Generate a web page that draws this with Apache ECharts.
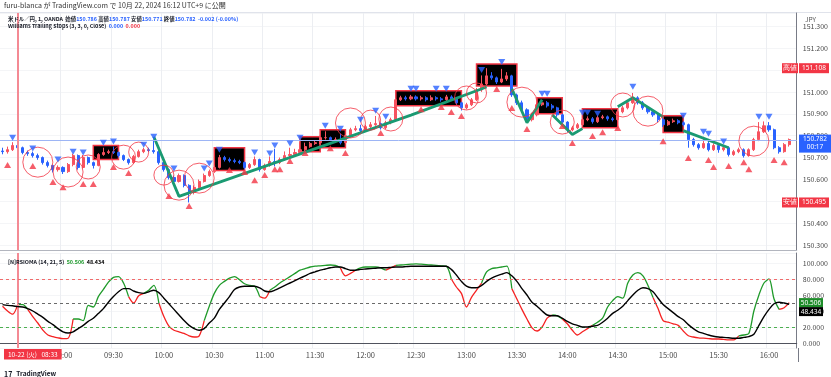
<!DOCTYPE html>
<html>
<head>
<meta charset="utf-8">
<script src="https://cdn.jsdelivr.net/npm/echarts@6/dist/echarts.min.js"></script>
<style>
  html, body { margin: 0; padding: 0; background: #fff; }
  #chart { width: 831px; height: 377px; }
</style>
</head>
<body>
<div id="chart"></div>
<script>
// ---- データ (3分足で読み取り) ----
const startMinute = 8 * 60 + 24;   // 08:24
const stepMinute = 3;
const barCount = 158;
const timeLabels = ['09:00', '09:30', '10:00', '10:30', '11:00', '11:30', '12:00', '12:30',
  '13:00', '13:30', '14:00', '14:30', '15:00', '15:30', '16:00'];

const firstOpen = 150.730;
const closes = [
  150.727, 150.736, 150.755, 150.745, 150.723, 150.718, 150.709, 150.700, 150.677, 150.664,
  150.645, 150.655, 150.636, 150.668, 150.709, 150.655, 150.700, 150.677, 150.664, 150.714,
  150.723, 150.727, 150.723, 150.709, 150.691, 150.677, 150.705, 150.727, 150.736, 150.732,
  150.727, 150.677, 150.645, 150.609, 150.591, 150.618, 150.573, 150.541, 150.564, 150.591,
  150.618, 150.636, 150.655, 150.700, 150.691, 150.686, 150.682, 150.677, 150.655, 150.668,
  150.691, 150.645, 150.664, 150.682, 150.677, 150.691, 150.709, 150.714, 150.723, 150.736,
  150.750, 150.764, 150.768, 150.791, 150.791, 150.782, 150.782, 150.768, 150.800, 150.827,
  150.832, 150.823, 150.841, 150.850, 150.855, 150.836, 150.859, 150.873, 150.964, 150.973,
  150.968, 150.977, 150.968, 150.973, 150.964, 150.973, 150.968, 150.964, 150.977, 150.968,
  150.950, 150.927, 150.941, 150.964, 151.009, 151.036, 151.073, 151.064, 151.045, 151.059,
  151.073, 150.986, 150.950, 150.918, 150.873, 150.895, 150.941, 150.950, 150.936, 150.927,
  150.895, 150.862, 150.827, 150.836, 150.850, 150.873, 150.877, 150.864, 150.882, 150.886,
  150.877, 150.873, 150.909, 150.927, 150.950, 150.973, 150.950, 150.927, 150.909, 150.895,
  150.873, 150.850, 150.864, 150.868, 150.859, 150.850, 150.782, 150.759, 150.745, 150.764,
  150.736, 150.755, 150.736, 150.745, 150.714, 150.727, 150.736, 150.709, 150.736, 150.782,
  150.818, 150.845, 150.827, 150.745, 150.727, 150.759, 150.782
];
const highs = [
  150.745, 150.750, 150.770, 150.768, 150.750, 150.732, 150.727, 150.718, 150.705, 150.686,
  150.668, 150.664, 150.660, 150.675, 150.718, 150.714, 150.712, 150.705, 150.682, 150.720,
  150.745, 150.736, 150.750, 150.728, 150.714, 150.696, 150.712, 150.736, 150.745, 150.745,
  150.782, 150.732, 150.682, 150.650, 150.618, 150.627, 150.623, 150.578, 150.573, 150.600,
  150.627, 150.645, 150.664, 150.712, 150.708, 150.700, 150.695, 150.690, 150.682, 150.675,
  150.705, 150.695, 150.672, 150.705, 150.740, 150.700, 150.728, 150.745, 150.740, 150.770,
  150.768, 150.772, 150.778, 150.800, 150.820, 150.796, 150.792, 150.810, 150.808, 150.836,
  150.845, 150.850, 150.850, 150.862, 150.890, 150.860, 150.868, 150.882, 150.972, 150.982,
  150.982, 150.986, 150.984, 150.982, 150.980, 150.984, 150.980, 150.976, 150.986, 150.984,
  150.972, 150.955, 150.950, 150.972, 151.018, 151.075, 151.108, 151.090, 151.070, 151.105,
  151.090, 151.078, 150.992, 150.960, 150.925, 150.905, 150.950, 150.962, 150.958, 150.945,
  150.932, 150.900, 150.866, 150.845, 150.858, 150.882, 150.888, 150.885, 150.892, 150.895,
  150.892, 150.885, 150.918, 150.936, 150.960, 150.995, 150.980, 150.958, 150.935, 150.915,
  150.900, 150.880, 150.872, 150.878, 150.875, 150.866, 150.855, 150.790, 150.766, 150.795,
  150.785, 150.765, 150.760, 150.752, 150.750, 150.735, 150.745, 150.742, 150.742, 150.790,
  150.862, 150.865, 150.862, 150.832, 150.752, 150.766, 150.787
];
const lows = [
  150.715, 150.718, 150.730, 150.735, 150.715, 150.708, 150.700, 150.690, 150.668, 150.655,
  150.632, 150.636, 150.625, 150.630, 150.660, 150.645, 150.650, 150.668, 150.650, 150.660,
  150.708, 150.716, 150.716, 150.700, 150.684, 150.668, 150.672, 150.700, 150.720, 150.725,
  150.718, 150.668, 150.636, 150.600, 150.582, 150.586, 150.564, 150.495, 150.532, 150.555,
  150.586, 150.612, 150.630, 150.650, 150.682, 150.678, 150.674, 150.670, 150.645, 150.648,
  150.662, 150.636, 150.640, 150.658, 150.660, 150.670, 150.686, 150.700, 150.708, 150.716,
  150.730, 150.745, 150.758, 150.762, 150.782, 150.775, 150.774, 150.760, 150.762, 150.795,
  150.820, 150.815, 150.818, 150.835, 150.845, 150.828, 150.830, 150.852, 150.868, 150.958,
  150.960, 150.962, 150.960, 150.960, 150.956, 150.958, 150.960, 150.955, 150.958, 150.960,
  150.942, 150.915, 150.920, 150.935, 150.958, 151.000, 151.030, 151.055, 151.036, 151.040,
  151.050, 150.977, 150.940, 150.905, 150.860, 150.865, 150.888, 150.935, 150.928, 150.918,
  150.886, 150.855, 150.815, 150.820, 150.830, 150.845, 150.866, 150.855, 150.858, 150.875,
  150.868, 150.865, 150.868, 150.902, 150.920, 150.945, 150.942, 150.918, 150.900, 150.886,
  150.862, 150.840, 150.845, 150.858, 150.852, 150.842, 150.745, 150.750, 150.736, 150.740,
  150.728, 150.730, 150.722, 150.728, 150.705, 150.708, 150.720, 150.700, 150.704, 150.730,
  150.775, 150.812, 150.818, 150.738, 150.718, 150.722, 150.750
];

// Williams Trailing Stops のマーカー [足番号, 価格]
const highMarks = [[2, 150.791], [6, 150.741], [11, 150.691], [14, 150.727], [16, 150.723],
  [20, 150.768], [22, 150.773], [28, 150.759], [30, 150.795], [34, 150.650], [40, 150.650],
  [41, 150.673], [43, 150.736], [50, 150.723], [53, 150.718], [54, 150.755], [57, 150.764],
  [59, 150.791], [64, 150.845], [67, 150.832], [71, 150.873], [74, 150.914], [76, 150.886],
  [81, 151.014], [82, 151.014], [86, 151.014], [88, 151.014], [95, 151.100], [99, 151.136],
  [107, 150.991], [108, 150.991], [115, 150.905], [116, 150.905], [118, 150.900], [125, 151.023],
  [135, 150.891], [139, 150.818], [140, 150.809], [143, 150.773], [150, 150.886], [152, 150.886]];
const lowMarks = [[1, 150.666], [6, 150.661], [10, 150.588], [12, 150.565], [16, 150.579],
  [18, 150.579], [22, 150.657], [25, 150.629], [33, 150.524], [37, 150.479], [45, 150.643],
  [48, 150.634], [50, 150.597], [52, 150.620], [54, 150.647], [55, 150.647], [57, 150.684],
  [60, 150.721], [65, 150.743], [68, 150.721], [75, 150.812], [83, 150.921], [87, 150.931],
  [89, 150.908], [91, 150.890], [98, 151.013], [101, 150.926], [104, 150.830], [111, 150.844],
  [113, 150.766], [117, 150.798], [119, 150.816], [122, 150.835], [131, 150.775], [136, 150.698],
  [140, 150.689], [141, 150.657], [144, 150.661], [147, 150.679], [148, 150.647], [153, 150.689],
  [155, 150.679]];

// 丸 (中心)
const circlesLarge = [[7, 150.679], [13, 150.634], [35, 150.574], [39, 150.606], [69, 150.858],
  [103, 150.953], [128, 150.912], [149, 150.775]];
const circlesMid = [[17, 150.657], [24, 150.702], [77, 150.876], [92, 150.972], [111, 150.862],
  [123, 150.940]];
const circlesSmall = [[27, 150.725], [32, 150.620], [73, 150.871], [94, 150.995]];

// 黒い箱 [開始足, 終了足, 上, 下]
const boxes = [[18, 23, 150.755, 150.691], [42, 48, 150.745, 150.641], [59, 63, 150.795, 150.727],
  [63, 68, 150.827, 150.745], [78, 91, 151.005, 150.936], [94, 102, 151.127, 151.027],
  [106, 111, 150.973, 150.900], [115, 122, 150.923, 150.836], [131, 135, 150.891, 150.814]];

// 緑のライン
const trendLines = [
  [[30, 150.795], [35, 150.523], [81, 150.894], [96, 151.022]],
  [[101, 151.014], [104, 150.859], [107, 150.964]],
  [[109, 150.895], [113, 150.805], [115, 150.832]],
  [[122, 150.932], [125, 150.973], [131, 150.886]],
  [[135, 150.823], [144, 150.745]]
];

// RSIOMA
const rsiValues = [
  46, 40, 36, 48, 48, 42, 33, 25, 16, 10,
  8, 6.5, 5.5, 6, 30, 30, 28, 47, 45, 58,
  67, 76, 82, 83, 75, 58, 50, 59, 62, 66,
  72, 50, 33, 21, 16, 14, 12, 9, 7.5, 9,
  28, 46, 62, 72, 77, 81, 83, 79, 74, 72,
  71, 58, 56, 66, 70, 75, 79, 83, 87, 91,
  93, 95, 96, 96.5, 97, 97.5, 97, 94, 84, 87,
  91, 94, 95, 95, 95, 94, 91, 94, 97, 97.5,
  98, 98.5, 99, 98.5, 98, 97.5, 97, 96.5, 96, 80,
  70, 62, 45, 57, 66, 75, 89, 93, 94, 95,
  96, 68, 55, 42, 30, 19, 15, 20, 31, 35,
  34, 30, 24, 16, 10, 14, 18, 22, 26, 31,
  45, 53, 58, 56, 75, 85, 88, 84, 72, 57,
  43, 28, 26, 24, 22, 15, 9, 7.5, 6.5, 6,
  5.5, 5, 5, 4.5, 4, 4, 9, 10, 12, 40,
  60, 75, 80, 55, 42, 44, 50.506
];
const maValues = [
  48, 47, 46.5, 45.5, 45, 43, 40, 36, 32, 27,
  23, 18, 14, 12.5, 14, 18, 22, 27, 31, 37,
  43, 51, 58, 64, 68, 68, 65, 63, 62, 64,
  66, 63, 56, 49, 42, 35, 28, 22, 18, 16,
  18, 25, 31, 42, 50, 58, 67, 70, 71, 71,
  71, 69, 65, 64, 66, 69, 72, 75, 78, 81,
  84, 87, 89, 91, 92.5, 94, 95, 95, 93, 91,
  91, 92, 92.5, 93, 93.5, 94, 94, 94.5, 95, 95,
  95.5, 96, 96, 96, 96, 96, 96, 96, 96, 92,
  85, 77, 71, 69, 69, 72, 77, 81, 84, 86,
  88, 84, 77, 68, 60, 51, 46, 40, 35, 34,
  34, 31, 27, 24, 22, 20, 20, 21, 22, 26,
  31, 37, 41, 46, 53, 60, 66, 69, 68, 64,
  56, 48, 43, 38, 33, 29, 23, 18, 14, 12,
  10, 8.5, 7.5, 7, 6.5, 6, 6, 7, 8, 11,
  22, 33, 42, 49, 51, 50, 48.434
];

const lastPrice = 150.782;
const dayHigh = 151.108;
const dayLow = 150.495;

// ---- 組み立て ----
const pad = n => (n < 10 ? '0' : '') + n;
const categories = [];
for (let i = 0; i < barCount; i++) {
  const m = startMinute + stepMinute * i;
  categories.push(pad(Math.floor(m / 60)) + ':' + pad(m % 60));
}
const candles = closes.map((c, i) => [i ? closes[i - 1] : firstOpen, c, lows[i], highs[i]]);
// 区間 (i, i+1) は i の時点で RSI >= MA なら緑、そうでなければ赤
const isUp = j => j >= 0 && j < rsiValues.length && rsiValues[j] >= maValues[j];
const rsiGreen = rsiValues.map((v, i) => (isUp(i) || isUp(i - 1) ? v : null));
const rsiRed = rsiValues.map((v, i) => (!isUp(i) || (i > 0 && !isUp(i - 1)) ? v : null));

const FONT = '"Noto Sans CJK JP", "Noto Sans", sans-serif';
const RED = '#f23645';
const BLUE = '#2962ff';
const showTime = (idx, val) => timeLabels.indexOf(val) >= 0;

const chart = echarts.init(document.getElementById('chart'));

const circleSeries = (data, size) => ({
  type: 'scatter', xAxisIndex: 0, yAxisIndex: 0, data: data, symbol: 'circle', symbolSize: size,
  itemStyle: { color: 'rgba(0,0,0,0)', borderColor: RED, borderWidth: 1 }, z: 5, silent: true
});
const hdr = (size, color) => ({ fontSize: size, color: color || '#131722', fontFamily: FONT });

const option = {
  animation: false,
  backgroundColor: '#fff',
  textStyle: { fontFamily: FONT },
  title: [
    { text: 'furu-blanca が TradingView.com で 10月 22, 2024 16:12 UTC+9 に公開', left: 4, top: 2, padding: 0,
      textStyle: { fontSize: 7, fontWeight: 'normal', color: '#333', fontFamily: FONT } },
    { text: '{k|米ドル／円, 1, OANDA  始値}{v|150.786}{k| 高値}{v|150.787}{k| 安値}{v|150.771}{k| 終値}{v|150.782}{v|  -0.002 (-0.00%)}',
      left: 8, top: 16.5, padding: 0,
      textStyle: { rich: { k: hdr(5.4), v: hdr(5.4, BLUE) } } },
    { text: '{k|Williams Trailing Stops (3, 3, 0, Close)  }{v|0.000}{r|  0.000}', left: 8, top: 23, padding: 0,
      textStyle: { rich: { k: hdr(5.4), v: hdr(5.4, BLUE), r: hdr(5.4, RED) } } },
    { text: '{k|[N]RSIOMA (14, 21, 5)  }{g|50.506}{b|  48.434}', left: 8, top: 259.5, padding: 0,
      textStyle: { rich: { k: hdr(5.4), g: hdr(5.4, '#1e9a2c'), b: hdr(5.4, '#000') } } },
    { text: 'JPY', left: 805, top: 16, padding: 0, textStyle: { fontSize: 6.5, fontWeight: 'normal', color: '#555', fontFamily: FONT } },
    { text: '10-22 (火)   08:33', left: 4, top: 349, padding: [2, 4], backgroundColor: RED,
      textStyle: { fontSize: 6.5, fontWeight: 'normal', color: '#fff', fontFamily: FONT } },
    { text: '{l|17} {t|TradingView}', left: 4, top: 365, padding: 0,
      textStyle: { rich: { l: { fontSize: 7, fontWeight: 'bold', color: '#131722' }, t: hdr(6.5) } } }
  ],
  grid: [
    { left: 0, right: 33, top: 13, height: 237 },
    { left: 0, right: 33, top: 253, height: 95 }
  ],
  xAxis: [
    { type: 'category', gridIndex: 0, data: categories, boundaryGap: true,
      axisLine: { show: true, lineStyle: { color: '#b2b5be' } }, axisTick: { show: false }, axisLabel: { show: false },
      splitLine: { show: true, interval: showTime, lineStyle: { color: '#eceef2' } } },
    { type: 'category', gridIndex: 1, data: categories, boundaryGap: true,
      axisLine: { show: true, lineStyle: { color: '#50535e' } }, axisTick: { show: false },
      axisLabel: { interval: showTime, fontSize: 7.5, color: '#4a4a4a', margin: 3, fontFamily: FONT },
      splitLine: { show: true, interval: showTime, lineStyle: { color: '#eceef2' } } }
  ],
  yAxis: [
    { type: 'value', gridIndex: 0, position: 'right', min: 150.278, max: 151.36, minInterval: 0.1, maxInterval: 0.1,
      axisLine: { show: true, onZero: false, lineStyle: { color: '#787b86' } }, axisTick: { show: false },
      axisLabel: { formatter: v => v.toFixed(3), fontSize: 7, color: '#4a4a4a', margin: 6, showMinLabel: false, showMaxLabel: false, fontFamily: FONT },
      splitLine: { show: true, lineStyle: { color: '#f4f5f7' } } },
    { type: 'value', gridIndex: 1, position: 'right', min: -6.25, max: 112.5, minInterval: 20, maxInterval: 20,
      axisLine: { show: true, onZero: false, lineStyle: { color: '#787b86' } }, axisTick: { show: false },
      axisLabel: { formatter: v => v.toFixed(3), fontSize: 7, color: '#4a4a4a', margin: 6, showMinLabel: false, showMaxLabel: false, fontFamily: FONT },
      splitLine: { show: true, lineStyle: { color: '#f4f5f7' } } }
  ],
  series: [
    // 黒い箱
    { type: 'line', xAxisIndex: 0, yAxisIndex: 0, data: [], z: 1, silent: true,
      markArea: { silent: true, itemStyle: { color: '#000', borderColor: RED, borderWidth: 1.5 },
        data: boxes.map(b => [{ xAxis: categories[b[0]], yAxis: b[2] }, { xAxis: categories[b[1]], yAxis: b[3] }]) } },
    // ローソク足
    { type: 'candlestick', xAxisIndex: 0, yAxisIndex: 0, data: candles, barWidth: 2.6, z: 2,
      itemStyle: { color: '#f7525f', color0: BLUE, borderColor: '#f7525f', borderColor0: BLUE, borderWidth: 1 },
      markLine: { silent: true, symbol: 'none', label: { show: false },
        data: [
          { yAxis: lastPrice, lineStyle: { color: '#9db5f5', type: 'solid', width: 1 } },
          { xAxis: categories[3], lineStyle: { color: '#f48a94', type: 'solid', width: 2 } }
        ] } },
    // 緑のライン
    ...trendLines.map(t => ({ type: 'line', xAxisIndex: 0, yAxisIndex: 0, data: t, symbol: 'none', z: 4, silent: true,
      lineStyle: { color: '#1a9a72', width: 2.8 } })),
    circleSeries(circlesLarge, 30),
    circleSeries(circlesMid, 24),
    circleSeries(circlesSmall, 20),
    { type: 'scatter', xAxisIndex: 0, yAxisIndex: 0, data: highMarks, symbol: 'triangle', symbolRotate: 180,
      symbolSize: [7, 6], itemStyle: { color: BLUE }, z: 6, silent: true },
    { type: 'scatter', xAxisIndex: 0, yAxisIndex: 0, data: lowMarks, symbol: 'triangle',
      symbolSize: [7, 6], itemStyle: { color: RED }, z: 6, silent: true },
    // RSIOMA
    { type: 'line', xAxisIndex: 1, yAxisIndex: 1, data: rsiRed, symbol: 'none', smooth: 0.3, z: 3,
      lineStyle: { color: '#f52222', width: 1.3 },
      markLine: { silent: true, symbol: 'none', label: { show: false },
        data: [{ xAxis: categories[3], lineStyle: { color: '#f48a94', type: 'solid', width: 2 } }] } },
    { type: 'line', xAxisIndex: 1, yAxisIndex: 1, data: rsiGreen, symbol: 'none', smooth: 0.3, z: 4,
      lineStyle: { color: '#1f9a2a', width: 1.3 } },
    { type: 'line', xAxisIndex: 1, yAxisIndex: 1, data: maValues, symbol: 'none', smooth: 0.3, z: 5,
      lineStyle: { color: '#000', width: 1.4 },
      markLine: { silent: true, symbol: 'none', label: { show: false },
        data: [
          { yAxis: 80, lineStyle: { color: '#f06b6b', type: [3, 3], width: 1 } },
          { yAxis: 50, lineStyle: { color: '#6a6a6a', type: [3, 3], width: 1 } },
          { yAxis: 20, lineStyle: { color: '#4caf50', type: [3, 3], width: 1 } }
        ] } }
  ]
};
chart.setOption(option);

// 右側のラベル (軸の座標から配置)
const tag = (x, yc, w, h, bg, lines) => {
  const els = [{ type: 'rect', shape: { x: x, y: yc - h / 2, width: w, height: h }, style: { fill: bg }, z: 100 }];
  lines.forEach((t, k) => {
    els.push({ type: 'text', z: 101, style: { text: t, x: x + w / 2, y: yc - h / 2 + 5 + k * 8, fill: '#fff',
      font: '6.5px "Noto Sans"', textAlign: 'center', textVerticalAlign: 'middle' } });
  });
  return els;
};
const pyTop = v => chart.convertToPixel({ yAxisIndex: 0 }, v);
const pyRsi = v => chart.convertToPixel({ yAxisIndex: 1 }, v);
const yHigh = pyTop(dayHigh), yLow = pyTop(dayLow), yLast = pyTop(lastPrice);
const yRsi = pyRsi(rsiValues[rsiValues.length - 1]);
chart.setOption({
  graphic: [
    ...tag(799, yHigh, 30, 10, RED, [dayHigh.toFixed(3)]),
    ...tag(782, yHigh, 16, 10, RED, ['高値']),
    ...tag(799, yLow, 30, 10, RED, [dayLow.toFixed(3)]),
    ...tag(782, yLow, 16, 10, RED, ['安値']),
    ...tag(799, yLast + 4, 32, 18, BLUE, [lastPrice.toFixed(3), '00:17']),
    ...tag(799, yRsi, 24, 9, '#1e8c2a', ['50.506']),
    ...tag(799, yRsi + 9, 24, 9, '#000', ['48.434']),
    { type: 'line', shape: { x1: 798.5, y1: 348, x2: 798.5, y2: 362 }, style: { stroke: '#787b86' } },
    { type: 'line', shape: { x1: 0, y1: 12.5, x2: 831, y2: 12.5 }, style: { stroke: '#e0e3eb' } }
  ]
});
</script>
</body>
</html>
